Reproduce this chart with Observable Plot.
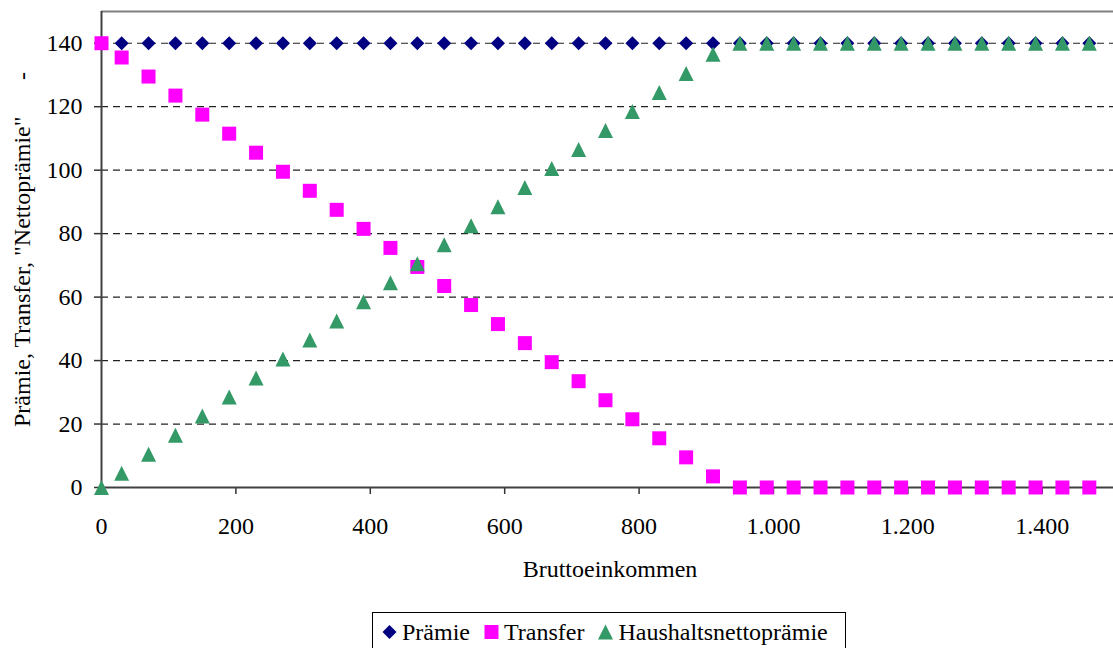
<!DOCTYPE html>
<html>
<head>
<meta charset="utf-8">
<script src="https://cdn.jsdelivr.net/npm/d3@7"></script>
<script src="https://cdn.jsdelivr.net/npm/@observablehq/plot@0.6"></script>
<style>
  html, body { margin: 0; padding: 0; background: #fff; }
  #chart { width: 1113px; }
  .legend {
    margin-left: 372px; margin-top: 12px; width: 474px; height: 40px;
    border: 1px solid #000; box-sizing: border-box;
    font-family: "Liberation Serif", "Times New Roman", serif; font-size: 24px; color: #000;
    display: flex; align-items: center; padding-left: 9px; white-space: nowrap;
  }
  .legend svg { flex: none; }
  .legend span.lab { margin-left: 5px; margin-right: 14px; }
</style>
</head>
<body>
<div id="chart"></div>
<script>
// ---- data ----
const income = [0, 30, 70, 110, 150, 190, 230, 270, 310, 350, 390, 430, 470, 510, 550, 590, 630, 670, 710, 750,
                790, 830, 870, 910, 950, 990, 1030, 1070, 1110, 1150, 1190, 1230, 1270, 1310, 1350, 1390, 1430, 1470];
const praemie = [140, 140, 140, 140, 140, 140, 140, 140, 140, 140, 140, 140, 140, 140, 140, 140, 140, 140, 140, 140,
                 140, 140, 140, 140, 140, 140, 140, 140, 140, 140, 140, 140, 140, 140, 140, 140, 140, 140];
const transfer = [140, 135.5, 129.5, 123.5, 117.5, 111.5, 105.5, 99.5, 93.5, 87.5, 81.5, 75.5, 69.5, 63.5, 57.5, 51.5,
                  45.5, 39.5, 33.5, 27.5, 21.5, 15.5, 9.5, 3.5, 0, 0, 0, 0, 0, 0, 0, 0, 0, 0, 0, 0, 0, 0];
const netto = [0, 4.5, 10.5, 16.5, 22.5, 28.5, 34.5, 40.5, 46.5, 52.5, 58.5, 64.5, 70.5, 76.5, 82.5, 88.5,
               94.5, 100.5, 106.5, 112.5, 118.5, 124.5, 130.5, 136.5, 140, 140, 140, 140, 140, 140, 140, 140, 140, 140, 140, 140, 140, 140];
const seriesNames = ["Prämie", "Transfer", "Haushaltsnettoprämie"];
const seriesColors = ["#000080", "#FF00FF", "#339966"];
const xTicks = [0, 200, 400, 600, 800, 1000, 1200, 1400];
const yTicks = [0, 20, 40, 60, 80, 100, 120, 140];
const xMax = 1506;
const yMax = 150;
const xLabel = "Bruttoeinkommen";
const yLabel = "Prämie, Transfer, \"Nettoprämie\"";

// ---- symbols (Excel-like markers) ----
const diamondSym = {draw(c) { const h = 7; c.moveTo(0, -h); c.lineTo(h, 0); c.lineTo(0, h); c.lineTo(-h, 0); c.closePath(); }};
const squareSym = {draw(c) { const h = 7; c.moveTo(-h, -h); c.lineTo(h, -h); c.lineTo(h, h); c.lineTo(-h, h); c.closePath(); }};
const triangleSym = {draw(c) { const h = 7.5; c.moveTo(0, -h); c.lineTo(h, h); c.lineTo(-h, h); c.closePath(); }};
const symbols = [diamondSym, squareSym, triangleSym];

const values = [praemie, transfer, netto];
const series = values.map((vals, k) => income.map((x, i) => ({x, y: vals[i], name: seriesNames[k]})));

const de = d3.formatLocale({decimal: ",", thousands: ".", grouping: [3], currency: ["", "€"]});
const fmt = de.format(",d");

const plot = Plot.plot({
  width: 1113, height: 600,
  marginLeft: 101, marginRight: 0, marginTop: 11, marginBottom: 113,
  style: {fontFamily: "Liberation Serif, Times New Roman, serif", fontSize: "24px", background: "#fff", color: "#000"},
  x: {domain: [0, xMax]},
  y: {domain: [0, yMax]},
  marks: [
    Plot.ruleY(yTicks.filter(d => d > 0), {stroke: "#222", strokeDasharray: "7,5", strokeWidth: 1.2}),
    Plot.ruleY([yMax], {stroke: "#808080", strokeWidth: 2}),
    Plot.axisX(xTicks, {tickSize: 7, tickPadding: 22, tickFormat: fmt, label: null, stroke: "#333", strokeWidth: 1.5}),
    Plot.axisY(yTicks, {tickSize: 7, tickPadding: 12, label: null, stroke: "#333", strokeWidth: 1.5}),
    Plot.ruleX([0], {stroke: "#404040", strokeWidth: 2}),
    Plot.ruleY([0], {stroke: "#404040", strokeWidth: 2}),
    ...series.map((rows, k) => Plot.dot(rows, {x: "x", y: "y", symbol: symbols[k], fill: seriesColors[k], stroke: "none"}))
  ]
});
document.getElementById("chart").appendChild(plot);

const svg = d3.select(plot);
svg.append("text")
  .attr("x", 610).attr("y", 577)
  .attr("text-anchor", "middle")
  .attr("font-family", "Liberation Serif, Times New Roman, serif").attr("font-size", 24)
  .attr("fill", "#000")
  .text(xLabel);
svg.append("text")
  .attr("transform", "translate(30,427) rotate(-90)")
  .attr("text-anchor", "start")
  .attr("font-family", "Liberation Serif, Times New Roman, serif").attr("font-size", 24)
  .attr("fill", "#000")
  .text(yLabel);
svg.append("text")
  .attr("transform", "translate(30,76) rotate(-90)")
  .attr("text-anchor", "middle")
  .attr("font-family", "Liberation Serif, Times New Roman, serif").attr("font-size", 24)
  .attr("fill", "#000")
  .text("-");

// ---- legend ----
const legend = d3.select("body").append("div").attr("class", "legend");
seriesNames.forEach((name, k) => {
  const s = legend.append("svg").attr("width", 15).attr("height", 16).attr("viewBox", "-7.5 -8 15 16");
  s.append("path").attr("d", d3.symbol(symbols[k])()).attr("fill", seriesColors[k]);
  legend.append("span").attr("class", "lab").text(name);
});
</script>
</body>
</html>
